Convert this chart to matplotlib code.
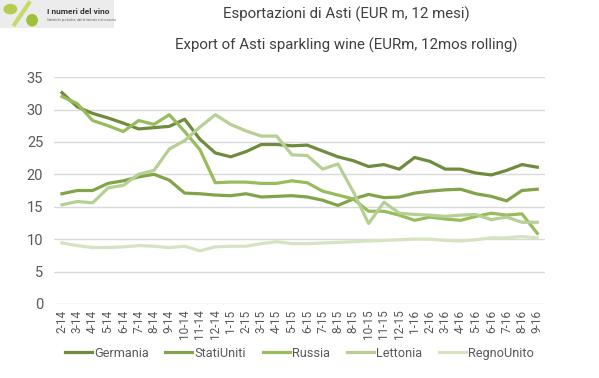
import numpy as np
import matplotlib.pyplot as plt
from matplotlib.patches import Rectangle, Ellipse
from matplotlib.lines import Line2D

plt.rcParams['font.family'] = ['Roboto', 'DejaVu Sans']

# month labels (the source repeats "8-15")
mesi = ["2-14", "3-14", "4-14", "5-14", "6-14", "7-14", "8-14", "9-14", "10-14", "11-14", "12-14",
        "1-15", "2-15", "3-15", "4-15", "5-15", "6-15", "7-15", "8-15", "8-15", "10-15", "11-15", "12-15",
        "1-16", "2-16", "3-16", "4-16", "5-16", "6-16", "7-16", "8-16", "9-16"]

germania = [32.6, 30.4, 29.4, 28.7, 27.9, 27.0, 27.2, 27.4, 28.5, 25.4, 23.3, 22.7, 23.5, 24.6, 24.6, 24.4,
            24.5, 23.6, 22.7, 22.1, 21.2, 21.5, 20.8, 22.6, 22.0, 20.8, 20.8, 20.2, 19.9, 20.6, 21.5, 21.1]
stati_uniti = [17.0, 17.5, 17.5, 18.6, 19.0, 19.6, 20.0, 19.1, 17.1, 17.0, 16.8, 16.7, 17.0, 16.5, 16.6, 16.7,
               16.5, 16.0, 15.2, 16.2, 16.9, 16.4, 16.5, 17.1, 17.4, 17.6, 17.7, 17.0, 16.6, 15.9, 17.5, 17.7]
russia = [32.0, 30.9, 28.3, 27.5, 26.6, 28.3, 27.7, 29.2, 26.6, 23.8, 18.7, 18.8, 18.8, 18.6, 18.6, 19.0,
          18.7, 17.4, 16.8, 16.2, 14.3, 14.3, 13.7, 12.9, 13.4, 13.1, 12.9, 13.5, 14.0, 13.7, 13.9, 10.9]
lettonia = [15.3, 15.8, 15.6, 17.9, 18.3, 20.0, 20.6, 23.9, 25.2, 27.3, 29.2, 27.7, 26.7, 25.9, 25.9, 23.0,
            22.9, 20.8, 21.6, 17.3, 12.4, 15.7, 14.0, 13.8, 13.7, 13.5, 13.7, 13.8, 13.0, 13.4, 12.6, 12.6]
regno_unito = [9.4, 9.0, 8.7, 8.7, 8.8, 9.0, 8.9, 8.7, 8.9, 8.2, 8.8, 8.9, 8.9, 9.3, 9.6, 9.3,
               9.3, 9.4, 9.5, 9.6, 9.7, 9.8, 9.9, 10.0, 10.0, 9.8, 9.7, 9.9, 10.2, 10.2, 10.4, 10.2]

serie = [("Germania", germania, "#6f8b3e"),
         ("StatiUniti", stati_uniti, "#83a34a"),
         ("Russia", russia, "#98bc5c"),
         ("Lettonia", lettonia, "#b6cf92"),
         ("RegnoUnito", regno_unito, "#d6e3c3")]

fig = plt.figure(figsize=(5.99, 3.78), dpi=100)
ax = fig.add_axes([0.0907, 0.196, 0.819, 0.600])

x = np.arange(len(mesi))
for nome, vals, col in serie:
    ax.plot(x, vals, color=col, lw=2.3, label=nome)

ax.set_xlim(-0.5, len(mesi) - 0.5)
ax.set_ylim(0, 35)
ax.set_yticks(range(0, 36, 5))
ax.set_xticks(x)
ax.set_xticklabels(mesi, rotation=90, fontsize=8.5, color="#595959")
ax.tick_params(axis='y', labelsize=10.5, colors="#595959", length=0, pad=8)
ax.tick_params(axis='x', length=0, pad=4)
ax.grid(axis='y', color="#d9d9d9", lw=1)
ax.set_axisbelow(True)
for s in ax.spines.values():
    s.set_visible(False)

fig.text(0.578, 0.963, "Esportazioni di Asti (EUR m, 12 mesi)", ha='center', va='center',
         fontsize=10.8, color="#404040")
fig.text(0.578, 0.881, "Export of Asti sparkling wine (EURm, 12mos rolling)", ha='center', va='center',
         fontsize=10.8, color="#404040")

leg = fig.legend(loc='center', bbox_to_anchor=(0.5, 0.066), ncol=5, frameon=False, fontsize=9.2,
                 handlelength=2.1, handletextpad=0.2, columnspacing=1.3)
for t in leg.get_texts():
    t.set_color("#595959")

# small logo in the corner
logo = fig.add_axes([0.0, 0.925, 0.19, 0.075])
logo.set_xlim(0, 110)
logo.set_ylim(0, 28)
logo.axis('off')
logo.add_patch(Rectangle((0, 0), 110, 28, color="#ececec"))
logo.add_line(Line2D([14, 28], [4, 25], color="#c8d96a", lw=3))
logo.add_patch(Ellipse((10, 19), 12, 9, color="#b5cd4e"))
logo.add_patch(Ellipse((31, 8), 10, 11, color="#9ec03a"))
logo.text(45, 17, "I numeri del vino", fontsize=6, fontweight='bold', color="#333333", va='center')
logo.text(45, 8, "Statistiche produttive, dati di mercato e di consumo", fontsize=2.2, color="#666666", va='center')

fig.savefig("out.png", dpi=100)
